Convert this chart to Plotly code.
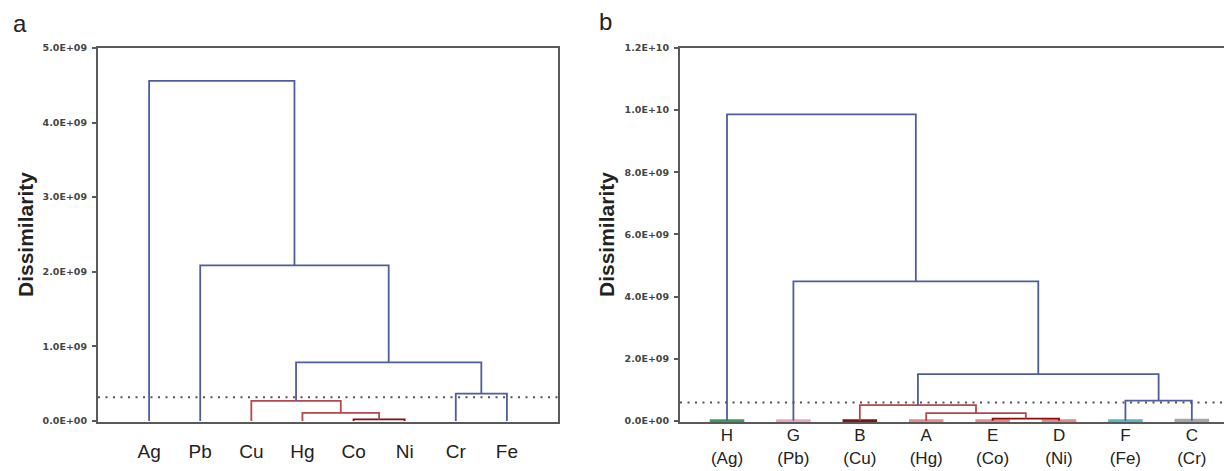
import plotly.graph_objects as go

# ---------------- data ----------------
# Panel a: leaves and agglomeration steps (left node, right node, height)
leaves_a = ["Ag", "Pb", "Cu", "Hg", "Co", "Ni", "Cr", "Fe"]
merge_left_a = [4, 3, 2, 6, 10, 1, 0]
merge_right_a = [5, 8, 9, 7, 11, 12, 13]
merge_height_a = [0.02e9, 0.107e9, 0.267e9, 0.365e9, 0.785e9, 2.085e9, 4.56e9]
merge_group_a = ["dark", "red", "red", "blue", "blue", "blue", "blue"]
cutoff_a = 0.317e9
yticks_a = [0, 1e9, 2e9, 3e9, 4e9, 5e9]
yticktext_a = ["0.0E+00", "1.0E+09", "2.0E+09", "3.0E+09", "4.0E+09", "5.0E+09"]

# Panel b
leaves_b = ["H", "G", "B", "A", "E", "D", "F", "C"]
elements_b = ["Ag", "Pb", "Cu", "Hg", "Co", "Ni", "Fe", "Cr"]
merge_left_b = [4, 3, 2, 6, 10, 1, 0]
merge_right_b = [5, 8, 9, 7, 11, 12, 13]
merge_height_b = [0.07e9, 0.245e9, 0.505e9, 0.648e9, 1.50e9, 4.49e9, 9.865e9]
merge_group_b = ["dark", "red", "red", "blue", "blue", "blue", "blue"]
leaf_group_b = ["green", "pink", "darkred2", "salmon", "salmon", "salmon", "teal", "gray"]
cutoff_b = 0.59e9
yticks_b = [0, 2e9, 4e9, 6e9, 8e9, 10e9, 12e9]
yticktext_b = ["0.0E+00", "2.0E+09", "4.0E+09", "6.0E+09", "8.0E+09", "1.0E+10", "1.2E+10"]

# ---------------- styles ----------------
COLORS = {"blue": "#515c9e", "red": "#b4474b", "dark": "#8b0c0c",
          "green": "#3c9a5c", "pink": "#e8a3c8", "darkred2": "#7d1414",
          "salmon": "#e38a8a", "teal": "#55b8c0", "gray": "#a6a6a6"}
LW = 1.8


def dendro_segments(n_leaves, left, right, heights, groups):
    xpos = {i: float(i) for i in range(n_leaves)}
    hpos = {i: 0.0 for i in range(n_leaves)}
    segs = {}
    for k, (l, r, h, g) in enumerate(zip(left, right, heights, groups)):
        node = n_leaves + k
        xs, ys = segs.setdefault(g, ([], []))
        xs += [xpos[l], xpos[l], xpos[r], xpos[r], None]
        ys += [hpos[l], h, h, hpos[r], None]
        xpos[node] = (xpos[l] + xpos[r]) / 2
        hpos[node] = h
    return segs


fig = go.Figure()

# panel a
for g, (xs, ys) in dendro_segments(len(leaves_a), merge_left_a, merge_right_a,
                                   merge_height_a, merge_group_a).items():
    fig.add_trace(go.Scatter(x=xs, y=ys, mode="lines", xaxis="x", yaxis="y",
                             line=dict(color=COLORS[g], width=LW), hoverinfo="skip"))

# panel b leaf base segments
for i, g in enumerate(leaf_group_b):
    fig.add_trace(go.Scatter(x=[i - 0.26, i + 0.26], y=[0, 0], mode="lines",
                             xaxis="x2", yaxis="y2",
                             line=dict(color=COLORS[g], width=4 if g == "gray" else 3),
                             hoverinfo="skip"))
for g, (xs, ys) in dendro_segments(len(leaves_b), merge_left_b, merge_right_b,
                                   merge_height_b, merge_group_b).items():
    fig.add_trace(go.Scatter(x=xs, y=ys, mode="lines", xaxis="x2", yaxis="y2",
                             line=dict(color=COLORS[g], width=LW), hoverinfo="skip"))

# The page body has an 8px default margin: work in screen pixels, convert.
OFF = 8
W, H = 1232 - OFF, 471 - OFF
TOP, BOT = 48, 422          # screen y of plot top / bottom


def sx(p):
    return (p - OFF) / W


def sy(p):
    return (BOT - p) / (BOT - TOP)


tickfont = dict(family="DejaVu Sans", size=9.5, color="#454545", weight="bold")
axis_line = dict(showline=True, linecolor="#5a5a5a", linewidth=2, showgrid=False,
                 zeroline=False, automargin=False)

fig.update_layout(
    width=W, height=H,
    margin=dict(l=0, r=0, t=TOP - OFF, b=H - (BOT - OFF), autoexpand=False),
    paper_bgcolor="white", plot_bgcolor="white",
    showlegend=False,
    xaxis=dict(domain=[sx(98), sx(558)], range=[-1, 8], mirror=True,
               tickmode="array", tickvals=list(range(len(leaves_a))), ticktext=leaves_a,
               ticks="", ticklabelstandoff=11,
               tickfont=dict(family="Liberation Sans", size=19, color="#222"),
               **axis_line),
    yaxis=dict(domain=[0, 1], range=[-0.015e9, 5e9], mirror=True,
               tickmode="array", tickvals=yticks_a, ticktext=yticktext_a,
               ticks="outside", ticklen=4, tickcolor="#5a5a5a", tickwidth=1.5,
               ticklabelstandoff=3, tickfont=tickfont, anchor="x",
               **axis_line),
    xaxis2=dict(domain=[sx(680), 1.0], range=[-0.708, 7.605], mirror=True,
                tickmode="array", tickvals=list(range(len(leaves_b))),
                ticktext=[f"{a}<br>({b})" for a, b in zip(leaves_b, elements_b)],
                ticks="", ticklabelstandoff=-3, anchor="y2",
                tickfont=dict(family="Liberation Sans", size=17, color="#222"),
                **axis_line),
    yaxis2=dict(domain=[0, 1], range=[-0.04e9, 12e9], mirror=False,
                tickmode="array", tickvals=yticks_b, ticktext=yticktext_b,
                ticks="outside", ticklen=4, tickcolor="#5a5a5a", tickwidth=1.5,
                ticklabelstandoff=3, tickfont=tickfont, anchor="x2",
                **axis_line),
)

# cutoff (truncation) lines
for xr, yr, c in [("x domain", "y", cutoff_a), ("x2 domain", "y2", cutoff_b)]:
    fig.add_shape(type="line", xref=xr, yref=yr, x0=0, x1=1, y0=c, y1=c,
                  line=dict(color="#555", width=2, dash="2px,5.5px"), layer="above")

# titles and panel labels
fig.add_annotation(x=sx(20), y=sy(24), xref="paper", yref="paper", text="a",
                   xanchor="center", yanchor="middle",
                   showarrow=False, font=dict(family="Liberation Sans", size=24, color="#222"))
fig.add_annotation(x=sx(605), y=sy(22), xref="paper", yref="paper", text="b",
                   xanchor="center", yanchor="middle",
                   showarrow=False, font=dict(family="Liberation Sans", size=24, color="#222"))
for xc in [25, 606]:
    fig.add_annotation(x=sx(xc), y=sy(235), xref="paper", yref="paper",
                       xanchor="center", yanchor="middle",
                       text="<b>Dissimilarity</b>", textangle=-90, showarrow=False,
                       font=dict(family="Liberation Sans", size=21, color="#222"))

fig.write_html("out.html")
